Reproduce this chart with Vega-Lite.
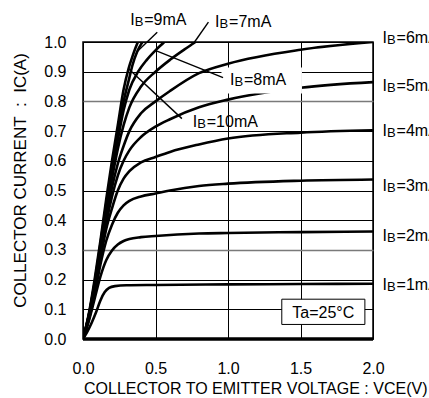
{
  "$schema": "https://vega.github.io/schema/vega-lite/v6.json",
  "autosize": "none",
  "padding": {"left": 83, "top": 42, "right": 56, "bottom": 59},
  "width": 290,
  "height": 297,
  "background": "white",
  "config": {
    "view": {"stroke": "black", "strokeWidth": 1.5},
    "font": "Liberation Sans",
    "text": {"font": "Liberation Sans", "color": "black"}
  },
  "datasets": {
    "curves": [
      {"ib": "0", "v": 0, "ic": 0}, {"ib": "0", "v": 2.0, "ic": 0},

      {"ib": "1", "v": 0, "ic": 0}, {"ib": "1", "v": 0.03, "ic": 0.025}, {"ib": "1", "v": 0.06, "ic": 0.055},
      {"ib": "1", "v": 0.09, "ic": 0.09}, {"ib": "1", "v": 0.12, "ic": 0.13}, {"ib": "1", "v": 0.15, "ic": 0.158},
      {"ib": "1", "v": 0.18, "ic": 0.172}, {"ib": "1", "v": 0.22, "ic": 0.178}, {"ib": "1", "v": 0.3, "ic": 0.181},
      {"ib": "1", "v": 0.5, "ic": 0.182}, {"ib": "1", "v": 1.0, "ic": 0.184}, {"ib": "1", "v": 1.5, "ic": 0.185},
      {"ib": "1", "v": 2.0, "ic": 0.186},

      {"ib": "2", "v": 0, "ic": 0}, {"ib": "2", "v": 0.04, "ic": 0.06}, {"ib": "2", "v": 0.08, "ic": 0.135},
      {"ib": "2", "v": 0.12, "ic": 0.21}, {"ib": "2", "v": 0.16, "ic": 0.265}, {"ib": "2", "v": 0.2, "ic": 0.298},
      {"ib": "2", "v": 0.24, "ic": 0.318}, {"ib": "2", "v": 0.28, "ic": 0.33}, {"ib": "2", "v": 0.32, "ic": 0.337},
      {"ib": "2", "v": 0.4, "ic": 0.343}, {"ib": "2", "v": 0.5, "ic": 0.347}, {"ib": "2", "v": 0.8, "ic": 0.355},
      {"ib": "2", "v": 1.0, "ic": 0.357}, {"ib": "2", "v": 1.5, "ic": 0.36}, {"ib": "2", "v": 2.0, "ic": 0.362},

      {"ib": "3", "v": 0, "ic": 0}, {"ib": "3", "v": 0.04, "ic": 0.065}, {"ib": "3", "v": 0.08, "ic": 0.15},
      {"ib": "3", "v": 0.12, "ic": 0.25}, {"ib": "3", "v": 0.16, "ic": 0.33}, {"ib": "3", "v": 0.2, "ic": 0.385},
      {"ib": "3", "v": 0.24, "ic": 0.425}, {"ib": "3", "v": 0.28, "ic": 0.45}, {"ib": "3", "v": 0.32, "ic": 0.465},
      {"ib": "3", "v": 0.4, "ic": 0.48}, {"ib": "3", "v": 0.5, "ic": 0.49}, {"ib": "3", "v": 0.6, "ic": 0.5},
      {"ib": "3", "v": 0.8, "ic": 0.515}, {"ib": "3", "v": 1.0, "ic": 0.523}, {"ib": "3", "v": 1.5, "ic": 0.533},
      {"ib": "3", "v": 2.0, "ic": 0.537},

      {"ib": "4", "v": 0, "ic": 0}, {"ib": "4", "v": 0.04, "ic": 0.07}, {"ib": "4", "v": 0.08, "ic": 0.16},
      {"ib": "4", "v": 0.12, "ic": 0.27}, {"ib": "4", "v": 0.16, "ic": 0.37}, {"ib": "4", "v": 0.2, "ic": 0.44},
      {"ib": "4", "v": 0.24, "ic": 0.5}, {"ib": "4", "v": 0.28, "ic": 0.54}, {"ib": "4", "v": 0.32, "ic": 0.565},
      {"ib": "4", "v": 0.4, "ic": 0.595}, {"ib": "4", "v": 0.5, "ic": 0.613}, {"ib": "4", "v": 0.6, "ic": 0.63},
      {"ib": "4", "v": 0.8, "ic": 0.655}, {"ib": "4", "v": 1.0, "ic": 0.675}, {"ib": "4", "v": 1.5, "ic": 0.695},
      {"ib": "4", "v": 2.0, "ic": 0.703},

      {"ib": "5", "v": 0, "ic": 0}, {"ib": "5", "v": 0.04, "ic": 0.072}, {"ib": "5", "v": 0.08, "ic": 0.17},
      {"ib": "5", "v": 0.12, "ic": 0.28}, {"ib": "5", "v": 0.16, "ic": 0.39}, {"ib": "5", "v": 0.2, "ic": 0.48},
      {"ib": "5", "v": 0.24, "ic": 0.55}, {"ib": "5", "v": 0.28, "ic": 0.6}, {"ib": "5", "v": 0.32, "ic": 0.635},
      {"ib": "5", "v": 0.4, "ic": 0.68}, {"ib": "5", "v": 0.5, "ic": 0.715}, {"ib": "5", "v": 0.6, "ic": 0.74},
      {"ib": "5", "v": 0.8, "ic": 0.78}, {"ib": "5", "v": 1.0, "ic": 0.806}, {"ib": "5", "v": 1.5, "ic": 0.846},
      {"ib": "5", "v": 2.0, "ic": 0.865},

      {"ib": "6", "v": 0, "ic": 0}, {"ib": "6", "v": 0.04, "ic": 0.075}, {"ib": "6", "v": 0.08, "ic": 0.175},
      {"ib": "6", "v": 0.12, "ic": 0.29}, {"ib": "6", "v": 0.16, "ic": 0.41}, {"ib": "6", "v": 0.2, "ic": 0.51},
      {"ib": "6", "v": 0.24, "ic": 0.59}, {"ib": "6", "v": 0.28, "ic": 0.65}, {"ib": "6", "v": 0.32, "ic": 0.7},
      {"ib": "6", "v": 0.4, "ic": 0.76}, {"ib": "6", "v": 0.5, "ic": 0.8}, {"ib": "6", "v": 0.6, "ic": 0.835},
      {"ib": "6", "v": 0.8, "ic": 0.895}, {"ib": "6", "v": 1.0, "ic": 0.927}, {"ib": "6", "v": 1.5, "ic": 0.974},
      {"ib": "6", "v": 2.0, "ic": 1.0},

      {"ib": "7", "v": 0, "ic": 0}, {"ib": "7", "v": 0.04, "ic": 0.078}, {"ib": "7", "v": 0.08, "ic": 0.18},
      {"ib": "7", "v": 0.12, "ic": 0.3}, {"ib": "7", "v": 0.16, "ic": 0.425}, {"ib": "7", "v": 0.2, "ic": 0.54},
      {"ib": "7", "v": 0.24, "ic": 0.64}, {"ib": "7", "v": 0.28, "ic": 0.72}, {"ib": "7", "v": 0.32, "ic": 0.78},
      {"ib": "7", "v": 0.4, "ic": 0.85}, {"ib": "7", "v": 0.5, "ic": 0.9}, {"ib": "7", "v": 0.6, "ic": 0.94},
      {"ib": "7", "v": 0.7, "ic": 0.975}, {"ib": "7", "v": 0.76, "ic": 0.995}, {"ib": "7", "v": 0.82, "ic": 1.015},

      {"ib": "8", "v": 0, "ic": 0}, {"ib": "8", "v": 0.04, "ic": 0.08}, {"ib": "8", "v": 0.08, "ic": 0.185},
      {"ib": "8", "v": 0.12, "ic": 0.31}, {"ib": "8", "v": 0.16, "ic": 0.44}, {"ib": "8", "v": 0.2, "ic": 0.56},
      {"ib": "8", "v": 0.24, "ic": 0.67}, {"ib": "8", "v": 0.28, "ic": 0.77}, {"ib": "8", "v": 0.32, "ic": 0.84},
      {"ib": "8", "v": 0.38, "ic": 0.9}, {"ib": "8", "v": 0.44, "ic": 0.94}, {"ib": "8", "v": 0.5, "ic": 0.972},
      {"ib": "8", "v": 0.56, "ic": 1.0}, {"ib": "8", "v": 0.6, "ic": 1.02},

      {"ib": "9", "v": 0, "ic": 0}, {"ib": "9", "v": 0.04, "ic": 0.08}, {"ib": "9", "v": 0.08, "ic": 0.19},
      {"ib": "9", "v": 0.12, "ic": 0.32}, {"ib": "9", "v": 0.16, "ic": 0.455}, {"ib": "9", "v": 0.2, "ic": 0.58},
      {"ib": "9", "v": 0.24, "ic": 0.7}, {"ib": "9", "v": 0.28, "ic": 0.8}, {"ib": "9", "v": 0.32, "ic": 0.88},
      {"ib": "9", "v": 0.34, "ic": 0.92}, {"ib": "9", "v": 0.374, "ic": 0.968}, {"ib": "9", "v": 0.41, "ic": 1.0},
      {"ib": "9", "v": 0.45, "ic": 1.03},

      {"ib": "10", "v": 0, "ic": 0}, {"ib": "10", "v": 0.04, "ic": 0.085}, {"ib": "10", "v": 0.08, "ic": 0.2},
      {"ib": "10", "v": 0.12, "ic": 0.33}, {"ib": "10", "v": 0.16, "ic": 0.47}, {"ib": "10", "v": 0.2, "ic": 0.6},
      {"ib": "10", "v": 0.24, "ic": 0.72}, {"ib": "10", "v": 0.28, "ic": 0.84}, {"ib": "10", "v": 0.314, "ic": 0.91},
      {"ib": "10", "v": 0.34, "ic": 0.95}, {"ib": "10", "v": 0.37, "ic": 0.99}, {"ib": "10", "v": 0.4, "ic": 1.02}
    ],
    "labels": [
      {"ib": "6", "tail": "=6mA", "v": 2.066, "ic": 1.018},
      {"ib": "5", "tail": "=5mA", "v": 2.066, "ic": 0.854},
      {"ib": "4", "tail": "=4mA", "v": 2.066, "ic": 0.704},
      {"ib": "3", "tail": "=3mA", "v": 2.066, "ic": 0.518},
      {"ib": "2", "tail": "=2mA", "v": 2.066, "ic": 0.349},
      {"ib": "1", "tail": "=1mA", "v": 2.066, "ic": 0.185},
      {"ib": "9", "tail": "=9mA", "v": 0.326, "ic": 1.076},
      {"ib": "7", "tail": "=7mA", "v": 0.911, "ic": 1.07},
      {"ib": "8", "tail": "=8mA", "v": 1.014, "ic": 0.874},
      {"ib": "10", "tail": "=10mA", "v": 0.757, "ic": 0.734}
    ],
    "leaders": [
      {"ib": "9", "v": 0.512, "ic": 1.033, "v2": 0.374, "ic2": 0.968},
      {"ib": "7", "v": 0.865, "ic": 1.067, "v2": 0.762, "ic2": 0.995},
      {"ib": "8", "v": 0.966, "ic": 0.88, "v2": 0.498, "ic2": 0.972},
      {"ib": "10", "v": 0.682, "ic": 0.742, "v2": 0.314, "ic2": 0.91}
    ],
    "boxes": [
      {"name": "ib8", "v": 0.955, "v2": 1.51, "ic": 0.827, "ic2": 0.914}
    ],
    "note": [
      {"text": "Ta=25°C", "v": 1.371, "v2": 1.944, "ic": 0.049, "ic2": 0.134, "vc": 1.657, "icc": 0.092}
    ]
  },
  "encoding": {
    "x": {
      "field": "v", "type": "quantitative",
      "scale": {"domain": [0, 2], "nice": false, "zero": false},
      "axis": {
        "title": "COLLECTOR TO EMITTER VOLTAGE : VCE(V)",
        "values": [0, 0.5, 1, 1.5, 2], "format": ".1f",
        "grid": true, "gridColor": "black", "gridWidth": 1, "gridOpacity": 1,
        "ticks": false, "tickSize": 0, "domain": false,
        "labelFont": "Liberation Sans", "labelFontSize": 16, "labelColor": "black",
        "labelPadding": 21, "labelFlush": false, "labelOverlap": false,
        "titleFont": "Liberation Sans", "titleFontSize": 16, "titleFontWeight": "normal", "titleColor": "black",
        "titleAnchor": "start", "titleAlign": "left", "titleBaseline": "alphabetic",
        "titleX": 0.5, "titleY": 54
      }
    },
    "y": {
      "field": "ic", "type": "quantitative",
      "scale": {"domain": [0, 1], "nice": false, "zero": false},
      "axis": {
        "title": "COLLECTOR CURRENT\u00a0\u00a0:\u00a0\u00a0IC(A)",
        "values": [0, 0.1, 0.2, 0.3, 0.4, 0.5, 0.6, 0.7, 0.8, 0.9, 1.0], "format": ".1f",
        "grid": true,
        "gridColor": {"condition": {"test": "abs(datum.value - 0.8) < 0.001 || abs(datum.value - 0.3) < 0.001", "value": "#7a7a7a"}, "value": "black"},
        "gridWidth": {"condition": {"test": "abs(datum.value - 0.8) < 0.001 || abs(datum.value - 0.3) < 0.001", "value": 1.6}, "value": 1},
        "ticks": false, "tickSize": 0, "domain": false,
        "labelFont": "Liberation Sans", "labelFontSize": 16, "labelColor": "black",
        "labelPadding": 17, "labelFlush": false, "labelOverlap": false,
        "titleFont": "Liberation Sans", "titleFontSize": 17, "titleFontWeight": "normal", "titleColor": "black",
        "titleAngle": 270, "titleAlign": "center", "titleBaseline": "alphabetic",
        "titleX": -58, "titleY": 138
      }
    }
  },
  "layer": [
    {
      "data": {"name": "curves"},
      "transform": [{"filter": "datum.ib != '0'"}],
      "mark": {"type": "line", "clip": true, "color": "black", "strokeWidth": 2.6, "interpolate": "monotone"},
      "encoding": {"detail": {"field": "ib"}}
    },
    {
      "data": {"name": "curves"},
      "transform": [{"filter": "datum.ib == '0'"}],
      "mark": {"type": "line", "color": "black", "strokeWidth": 3.5},
      "encoding": {}
    },
    {
      "data": {"name": "boxes"},
      "mark": {"type": "rect", "color": "white", "opacity": 1},
      "encoding": {"x2": {"field": "v2"}, "y2": {"field": "ic2"}}
    },
    {
      "data": {"name": "leaders"},
      "mark": {"type": "rule", "color": "black", "strokeWidth": 1.4},
      "encoding": {"x2": {"field": "v2"}, "y2": {"field": "ic2"}}
    },
    {
      "data": {"name": "note"},
      "mark": {"type": "rect", "fill": "white", "stroke": "black", "strokeWidth": 1},
      "encoding": {"x2": {"field": "v2"}, "y2": {"field": "ic2"}}
    },
    {
      "data": {"name": "note"},
      "mark": {"type": "text", "fontSize": 16, "align": "center", "baseline": "middle", "dy": 1},
      "encoding": {
        "x": {"field": "vc", "type": "quantitative"},
        "y": {"field": "icc", "type": "quantitative"},
        "text": {"field": "text"}
      }
    },
    {
      "data": {"name": "labels"},
      "mark": {"type": "text", "fontSize": 16, "align": "left", "baseline": "middle", "dy": 1},
      "encoding": {"text": {"value": "I"}}
    },
    {
      "data": {"name": "labels"},
      "mark": {"type": "text", "fontSize": 13, "align": "left", "baseline": "middle", "dx": 4.5, "dy": 3},
      "encoding": {"text": {"value": "B"}}
    },
    {
      "data": {"name": "labels"},
      "mark": {"type": "text", "fontSize": 16, "align": "left", "baseline": "middle", "dx": 14, "dy": 1},
      "encoding": {"text": {"field": "tail"}}
    }
  ]
}
